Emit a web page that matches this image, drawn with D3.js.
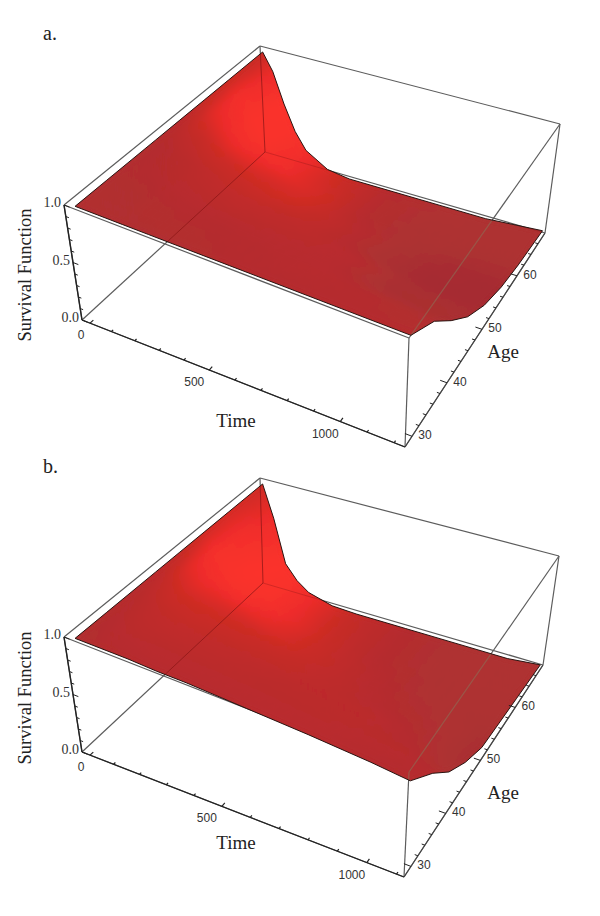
<!DOCTYPE html>
<html>
<head>
<meta charset="utf-8">
<script src="https://cdnjs.cloudflare.com/ajax/libs/d3/7.8.5/d3.min.js"></script>
<style>
  html, body { margin: 0; padding: 0; background: #fff; }
  svg { display: block; }
</style>
</head>
<body>
<svg id="chart"></svg>
<script>
const width = 600;
const height = 916;

// grid the surfaces are read on
const ages = [28.5, 35, 40, 45, 50, 55, 60, 67];
const timesA = [0, 50, 100, 150, 200, 300, 400, 600, 800, 1000, 1240];
const timesB = [0, 50, 100, 150, 200, 300, 400, 600, 800, 1000, 1125];

// survival values, one row per age
const survivalA = [
  [1, 1, 1, 1, 1, 1, 1, 1, 1, 1, 1],
  [1, .99, .99, .98, .98, .97, .96, .93, .9, .85, .81],
  [1, .98, .97, .96, .95, .92, .89, .82, .74, .65, .57],
  [1, .97, .94, .91, .88, .83, .77, .65, .54, .44, .36],
  [1, .94, .88, .82, .76, .66, .57, .43, .33, .27, .22],
  [1, .92, .8, .68, .58, .44, .34, .24, .18, .15, .14],
  [1, .88, .68, .5, .37, .22, .15, .1, .09, .09, .1],
  [1, .84, .56, .33, .18, .06, .03, .03, .03, .03, .07]
];
const survivalB = [
  [1, 1, 1, 1, 1, .99, .99, .97, .95, .92, .89],
  [1, .99, .98, .97, .96, .94, .92, .87, .8, .72, .63],
  [1, .97, .95, .93, .9, .85, .79, .68, .57, .47, .39],
  [1, .95, .9, .85, .79, .68, .58, .44, .34, .27, .23],
  [1, .9, .8, .7, .6, .46, .35, .23, .17, .14, .12],
  [1, .85, .65, .5, .38, .24, .16, .11, .1, .1, .1],
  [1, .8, .5, .32, .2, .1, .07, .06, .06, .07, .08],
  [1, .7, .3, .17, .09, .03, .02, .02, .02, .02, .05]
];

// how strongly each grid point is lit
const shadeA = [
  [.15, .15, .15, .15, .15, .15, .15, .2, .2, .2, .2],
  [.15, .15, .15, .15, .18, .2, .2, .22, .25, .2, .15],
  [.15, .18, .2, .22, .25, .28, .3, .28, .25, .05, .05],
  [.18, .2, .25, .28, .32, .38, .4, .32, .25, .05, .05],
  [.25, .38, .42, .48, .5, .5, .5, .32, .1, 0, 0],
  [.38, .68, .75, .78, .7, .58, .55, .3, .1, .02, 0],
  [.45, .85, .95, .95, .85, .65, .55, .2, .1, .1, .1],
  [.42, .7, 1, .95, .85, .6, .45, .2, .15, .12, .12]
];
const shadeB = [
  [.15, .15, .2, .2, .22, .22, .22, .25, .25, .2, .2],
  [.18, .22, .28, .3, .3, .3, .3, .28, .28, .25, .2],
  [.2, .28, .35, .38, .4, .38, .35, .3, .28, .2, .1],
  [.26, .42, .52, .52, .5, .45, .4, .32, .28, .15, .05],
  [.36, .7, .75, .68, .58, .5, .42, .3, .2, .12, .05],
  [.5, .9, .95, .88, .72, .58, .46, .28, .15, .1, .1],
  [.55, .85, 1, .95, .82, .62, .46, .22, .12, .12, .12],
  [.5, .75, 1, .95, .82, .6, .4, .2, .12, .12, .12]
];

// axis ticks
const timeTicks = d3.range(0, 1201, 100);
const timeLabels = [0, 500, 1000];
const ageTicks = d3.range(30, 67, 2);
const ageLabels = [30, 40, 50, 60];
const survivalTicks = d3.range(0, 1.01, 0.1);
const survivalLabels = [0, 0.5, 1];

// where the box corners land on the page, named [time][age][survival]
const panels = [
  {
    id: 'a', label: 'a.', labelAt: [43, 40],
    times: timesA, survival: survivalA, shade: shadeA,
    corners: {
      c000: [82, 320], c100: [405, 447], c010: [265, 152], c110: [545, 233],
      c001: [64, 205], c101: [409, 338], c011: [260, 46], c111: [560, 124]
    },
    timeTitle: [236, 427], ageTitle: [503, 358], survivalTitle: [31, 275]
  },
  {
    id: 'b', label: 'b.', labelAt: [43, 473],
    times: timesB, survival: survivalB, shade: shadeB,
    corners: {
      c000: [82, 752], c100: [404, 877], c010: [263, 583], c110: [543, 665],
      c001: [64, 637], c101: [409, 772], c011: [260, 478], c111: [559, 556]
    },
    timeTitle: [236, 849], ageTitle: [503, 799], survivalTitle: [31, 698]
  }
];

const serif = '"Liberation Serif", serif';
const sans = '"Liberation Sans", sans-serif';

const color = d3.scaleLinear()
  .domain([0, .1, .2, .3, .5, .75, 1])
  .range(['#a62a30', '#ad3232', '#b52c2e', '#bc2a2c', '#cc2c24', '#ee2c2a', '#fb332b'])
  .clamp(true);

const svg = d3.select('#chart')
  .attr('width', width)
  .attr('height', height);

const defs = svg.append('defs');
defs.append('filter')
  .attr('id', 'soft')
  .attr('x', '-5%').attr('y', '-5%').attr('width', '110%').attr('height', '110%')
  .append('feGaussianBlur')
  .attr('stdDeviation', 3);

function drawPanel(panel) {
  const g = svg.append('g');
  const c = panel.corners;
  const tMax = panel.times[panel.times.length - 1];

  // the box is padded around the data, and time shortens towards the back
  const u = d3.scalePow().exponent(1.07).domain([0, tMax]).range([0.025, 1]);
  const v = d3.scaleLinear().domain([28, 68]).range([0, 1]);
  const w = d3.scaleLinear().domain([0, 1]).range([0, 1]);

  const mix = (a, b, k) => [a[0] + (b[0] - a[0]) * k, a[1] + (b[1] - a[1]) * k];

  // trilinear placement inside the drawn box
  function place(a, b, h) {
    const low = mix(mix(c.c000, c.c100, a), mix(c.c010, c.c110, a), b);
    const top = mix(mix(c.c001, c.c101, a), mix(c.c011, c.c111, a), b);
    return mix(low, top, h);
  }
  const project = (time, age, s) => place(u(time), v(age), w(s));

  const line = d3.line();
  const times = panel.times;
  const S = panel.survival;
  const L = panel.shade;

  // box edges
  const box = [
    [c.c000, c.c100], [c.c100, c.c110], [c.c000, c.c010], [c.c010, c.c110],
    [c.c001, c.c101], [c.c001, c.c011], [c.c011, c.c111], [c.c101, c.c111],
    [c.c000, c.c001], [c.c100, c.c101], [c.c110, c.c111], [c.c010, c.c011]
  ];
  g.append('g').selectAll('path')
    .data(box)
    .enter()
    .append('path')
    .attr('d', line)
    .attr('fill', 'none')
    .attr('stroke', '#5c5c5c')
    .attr('stroke-width', 1.2);

  // outline of the surface
  const outline = [];
  times.forEach((t, j) => outline.push(project(t, ages[0], S[0][j])));
  ages.forEach((a, i) => outline.push(project(tMax, a, S[i][times.length - 1])));
  times.slice().reverse().forEach((t, j) => outline.push(project(t, ages[ages.length - 1], S[ages.length - 1][times.length - 1 - j])));
  ages.slice().reverse().forEach((a, i) => outline.push(project(0, a, S[ages.length - 1 - i][0])));

  const clipId = 'clip-' + panel.id;
  defs.append('clipPath').attr('id', clipId)
    .append('path').attr('d', line(outline) + 'Z');

  // split every grid cell so that the shading runs smoothly
  const cells = [];
  const n = 4;
  for (let i = 0; i < ages.length - 1; i++) {
    for (let j = 0; j < times.length - 1; j++) {
      for (let p = 0; p < n; p++) {
        for (let q = 0; q < n; q++) {
          const at = (x, y) => {
            const kx = x / n, ky = y / n;
            const blend = (m) => d3.interpolate(
              d3.interpolate(m[i][j], m[i][j + 1])(kx),
              d3.interpolate(m[i + 1][j], m[i + 1][j + 1])(kx)
            )(ky);
            const time = times[j] + (times[j + 1] - times[j]) * kx;
            const age = ages[i] + (ages[i + 1] - ages[i]) * ky;
            return { pos: project(time, age, blend(S)), light: blend(L) };
          };
          const pts = [at(p, q), at(p + 1, q), at(p + 1, q + 1), at(p, q + 1)];
          cells.push({ pts: pts.map((d) => d.pos), light: d3.mean(pts, (d) => d.light) });
        }
      }
    }
  }

  const surface = g.append('g').attr('clip-path', `url(#${clipId})`);
  const paintCells = (layer) => layer.selectAll('path')
    .data(cells)
    .enter()
    .append('path')
    .attr('d', (d) => line(d.pts) + 'Z')
    .attr('fill', (d) => color(d.light))
    .attr('stroke', (d) => color(d.light))
    .attr('stroke-width', 0.6);
  paintCells(surface.append('g'));
  paintCells(surface.append('g').attr('filter', 'url(#soft)'));

  // box edges seen through the surface
  const through = [
    { seg: [c.c000, c.c010], stroke: '#8c1717', width: 1, op: 0.75 },
    { seg: [c.c010, c.c011], stroke: '#8c1717', width: 1, op: 0.75 },
    { seg: [c.c010, c.c110], stroke: '#8c1717', width: 1, op: 0.35 },
    { seg: [c.c101, c.c111], stroke: '#8d6c55', width: 1.3, op: 0.6 },
    { seg: [c.c100, c.c101], stroke: '#8d6c55', width: 1.3, op: 0.6 }
  ];
  surface.append('g').selectAll('path')
    .data(through)
    .enter()
    .append('path')
    .attr('d', (d) => line(d.seg))
    .attr('fill', 'none')
    .attr('stroke', (d) => d.stroke)
    .attr('stroke-width', (d) => d.width)
    .attr('opacity', (d) => d.op);

  g.append('path')
    .attr('d', line(outline) + 'Z')
    .attr('fill', 'none')
    .attr('stroke', '#2a1512')
    .attr('stroke-width', 1);

  // axes on the three visible edges
  const axis = g.append('g').attr('stroke', '#222').attr('fill', 'none');
  axis.append('path').attr('d', line([c.c000, c.c100])).attr('stroke-width', 1.2);
  axis.append('path').attr('d', line([c.c100, c.c110])).attr('stroke', '#444').attr('stroke-width', 1.1);
  axis.append('path').attr('d', line([c.c000, c.c001])).attr('stroke-width', 1.4);

  axis.append('g').selectAll('path')
    .data(timeTicks.filter((d) => d <= tMax))
    .enter()
    .append('path')
    .attr('d', (d) => line([place(u(d), 0, 0), place(u(d), d % 500 === 0 ? 0.018 : 0.01, 0)]))
    .attr('stroke-width', 1.2);
  axis.append('g').selectAll('path')
    .data(ageTicks)
    .enter()
    .append('path')
    .attr('d', (d) => line([place(1, v(d), 0), place(d % 10 === 0 ? 0.978 : 0.99, v(d), 0)]))
    .attr('stroke-width', 1);
  axis.append('g').selectAll('path')
    .data(survivalTicks)
    .enter()
    .append('path')
    .attr('d', (d) => line([place(0, 0, d), place(Math.round(d * 10) % 5 === 0 ? 0.016 : 0.009, 0, d)]))
    .attr('stroke-width', 1);

  // tick labels
  g.append('g').selectAll('text')
    .data(timeLabels)
    .enter()
    .append('text')
    .attr('x', (d) => place(u(d), 0, 0)[0] + (d === 0 ? -9 : -15))
    .attr('y', (d) => place(u(d), 0, 0)[1] + 16)
    .attr('text-anchor', 'middle')
    .attr('font-family', sans)
    .attr('font-size', 12)
    .attr('fill', '#333')
    .text((d) => d);

  g.append('g').selectAll('text')
    .data(ageLabels)
    .enter()
    .append('text')
    .attr('x', (d) => place(1, v(d), 0)[0] + 13)
    .attr('y', (d) => place(1, v(d), 0)[1] + 3)
    .attr('text-anchor', 'middle')
    .attr('font-family', sans)
    .attr('font-size', 12)
    .attr('fill', '#333')
    .text((d) => d);

  g.append('g').selectAll('text')
    .data(survivalLabels)
    .enter()
    .append('text')
    .attr('x', (d) => place(0, 0, d)[0] - 3)
    .attr('y', (d) => place(0, 0, d)[1] + 2)
    .attr('text-anchor', 'end')
    .attr('font-family', serif)
    .attr('font-size', 14)
    .attr('fill', '#333')
    .text((d) => d3.format('.1f')(d));

  // titles
  const title = (at, text, size) => g.append('text')
    .attr('x', at[0])
    .attr('y', at[1])
    .attr('font-family', serif)
    .attr('font-size', size)
    .attr('fill', '#222')
    .text(text);

  title(panel.labelAt, panel.label, 20);
  title(panel.timeTitle, 'Time', 19).attr('text-anchor', 'middle');
  title(panel.ageTitle, 'Age', 19).attr('text-anchor', 'middle');
  title([0, 0], 'Survival Function', 18.5)
    .attr('text-anchor', 'middle')
    .attr('transform', `translate(${panel.survivalTitle[0]},${panel.survivalTitle[1]}) rotate(-90)`);
}

panels.forEach(drawPanel);
</script>
</body>
</html>
